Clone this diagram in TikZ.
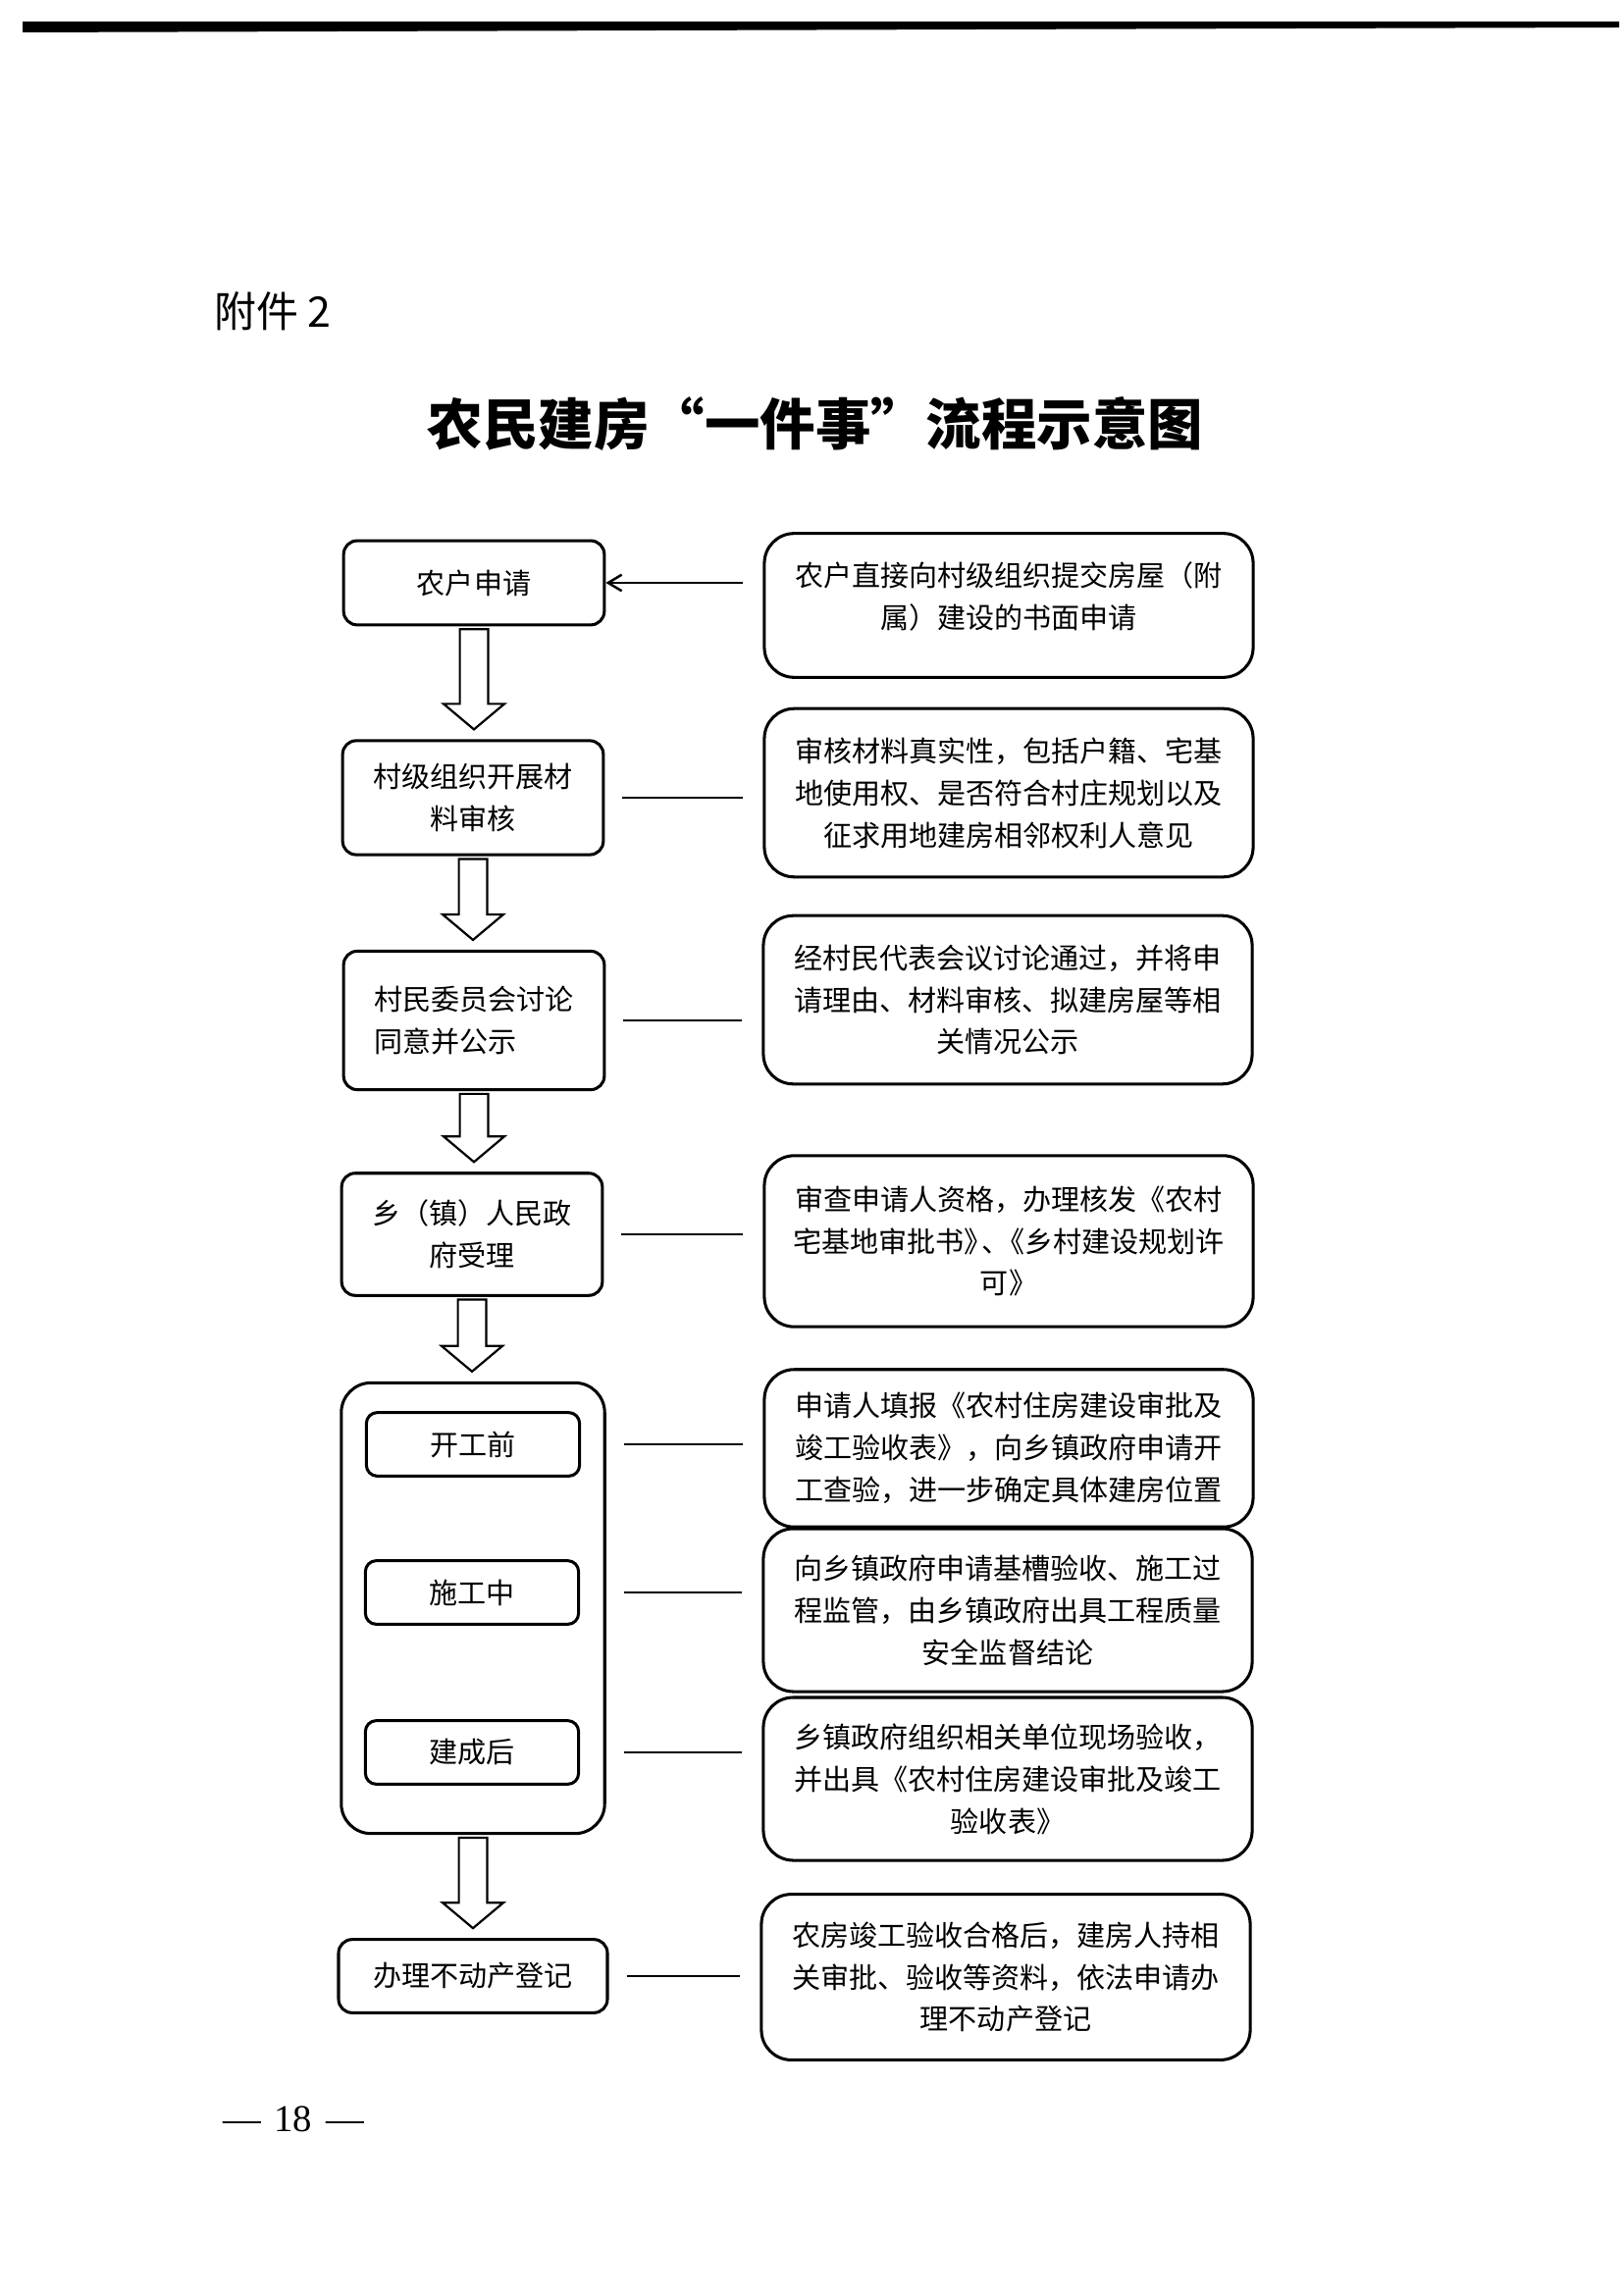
\documentclass[tikz,border=0pt]{standalone}
\usepackage{fontspec}
\setmainfont{Liberation Serif}
\newfontfamily\cjk{Noto Sans CJK SC}
\usetikzlibrary{arrows.meta}
\usetikzlibrary{calc}

\begin{document}
\begin{tikzpicture}[
            x=0.127mm, y=-0.127mm,
            stage/.style={draw, line width=1.1pt, rounded corners=5pt,
              minimum width=96pt, inner sep=4pt, align=center,
              font=\cjk\fontsize{10.5pt}{15.5pt}\selectfont},
            substage/.style={draw, line width=1.1pt, rounded corners=4pt,
              minimum width=78.5pt, minimum height=23.4pt,
              font=\cjk\fontsize{10.5pt}{15.5pt}\selectfont},
            note/.style={draw, line width=1.1pt, rounded corners=11pt,
              minimum width=180pt, align=center,
              font=\cjk\fontsize{10.5pt}{15.5pt}\selectfont},
            link/.style={line width=0.9pt, shorten <=6.5pt, shorten >=7.2pt},
            feed/.style={line width=0.9pt, -{Straight Barb[length=5pt, width=6pt]},
              shorten <=7.2pt},
            hollow/.style={line width=0.8pt, line join=miter,
              to path={let \p1=(\tikztostart), \p2=(\tikztotarget) in
                (\x1-5.2pt,\y1-1pt) -- (\x1-5.2pt,\y2+13pt) -- (\x1-11.2pt,\y2+13pt)
                -- (\x1,\y2+3.6pt) -- (\x1+11.2pt,\y2+13pt) -- (\x1+5.2pt,\y2+13pt)
                -- (\x1+5.2pt,\y1-1pt) -- cycle}}
        ]
            \useasboundingbox (0,0) rectangle (1654,2338);

            % Kopfbalken und Titel
            \fill (23,22) -- (1650,22) -- (1650,28) -- (23,33) -- cycle;
            \node[anchor=west, inner sep=0pt, font=\cjk\fontsize{15.5pt}{19pt}\selectfont] (annex) at (218,317) {附件 2};
            \node[font=\cjk\bfseries\fontsize{20.4pt}{24pt}\selectfont] (title) at (831,432)
              {农民建房\makebox[1em][r]{“}一件事\makebox[1em][l]{”}流程示意图};

            % Linke Spalte: Ablauf
            \node[stage, minimum height=31pt] (apply) at (483,594) {农户申请};
            \node[stage, minimum height=42pt] (audit) at (482,813) {村级组织开展材\\料审核};
            \node[stage, minimum height=51pt, align=left] (publicize) at (483,1040) {村民委员会讨论\\同意并公示};
            \node[stage, minimum height=45pt] (accept) at (481,1258) {乡（镇）人民政\\府受理};
            \node[draw, line width=1.1pt, rounded corners=11pt,
                  minimum width=97pt, minimum height=166pt] (build) at (482,1639) {};
            \node[substage] (before) at (482,1472) {开工前};
            \node[substage] (during) at (481,1623) {施工中};
            \node[substage] (after) at (481,1786) {建成后};
            \node[stage, minimum width=99pt, minimum height=27pt] (register) at (482,2014) {办理不动产登记};

            % Rechte Spalte: Erläuterungen
            \node[note, minimum height=53pt] (d1) at (1028,617) {农户直接向村级组织提交房屋（附\\属）建设的书面申请\\[-8pt]\mbox{}};
            \node[note, minimum height=62pt] (d2) at (1028,808) {审核材料真实性，包括户籍、宅基\\地使用权、是否符合村庄规划以及\\征求用地建房相邻权利人意见};
            \node[note, minimum height=62pt] (d3) at (1027,1019) {经村民代表会议讨论通过，并将申\\请理由、材料审核、拟建房屋等相\\关情况公示};
            \node[note, minimum height=63pt] (d4) at (1028,1265) {审查申请人资格，办理核发《农村\\宅基地审批书》\hspace{-4pt}、\hspace{-5pt}《乡村建设规划许\\可》};
            \node[note, minimum height=58pt] (d5) at (1028,1476) {申请人填报《农村住房建设审批及\\竣工验收表》，向乡镇政府申请开\\工查验，进一步确定具体建房位置};
            \node[note, minimum height=60pt] (d6) at (1027,1641) {向乡镇政府申请基槽验收、施工过\\程监管，由乡镇政府出具工程质量\\安全监督结论};
            \node[note, minimum height=60pt] (d7) at (1027,1813) {乡镇政府组织相关单位现场验收，\\并出具《农村住房建设审批及竣工\\验收表》};
            \node[note, minimum height=61pt] (d8) at (1025,2015) {农房竣工验收合格后，建房人持相\\关审批、验收等资料，依法申请办\\理不动产登记};

            % Blockpfeile
            \draw[hollow] (apply.south) to (audit.north);
            \draw[hollow] (audit.south) to (publicize.north);
            \draw[hollow] (publicize.south) to (accept.north);
            \draw[hollow] (accept.south) to (build.north);
            \draw[hollow] (build.south) to (register.north);

            % Verbindungslinien
            \draw[feed] (d1.west |- apply.east) -- (apply.east);
            \draw[link] (audit.east) -- (audit.east -| d2.west);
            \draw[link] (publicize.east) -- (publicize.east -| d3.west);
            \draw[link] (accept.east) -- (accept.east -| d4.west);
            \draw[link] (before.east -| build.east) -- (before.east -| d5.west);
            \draw[link] (during.east -| build.east) -- (during.east -| d6.west);
            \draw[link] (after.east -| build.east) -- (after.east -| d7.west);
            \draw[link] (register.east) -- (register.east -| d8.west);

            % Seitenzahl
            \node[font=\fontsize{14pt}{17pt}\selectfont] (page) at (299,2160) {—\hspace{5pt}18\hspace{5pt}—};

        \end{tikzpicture}
\end{document}
